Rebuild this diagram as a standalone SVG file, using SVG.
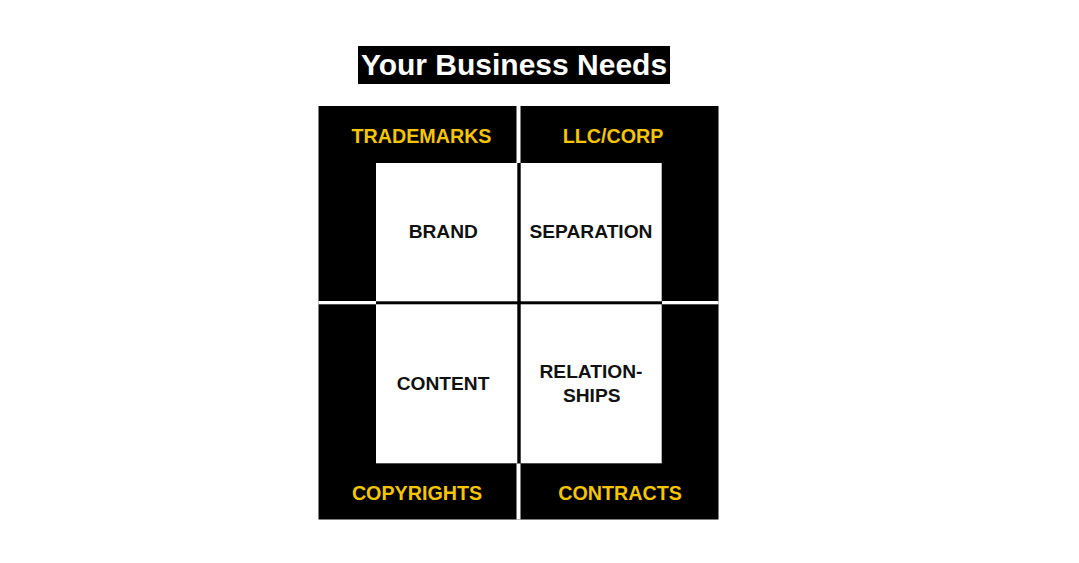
<svg xmlns="http://www.w3.org/2000/svg" width="1079" height="563" viewBox="0 0 1079 563">
<style>
.t{font-family:"Liberation Sans",Arial,sans-serif;font-weight:bold;text-anchor:middle}
.y{fill:#F5C500;font-size:19.7px}
.k{fill:#111;font-size:19.2px}
</style>
<rect width="1079" height="563" fill="#fff"/>
<g id="title">
<rect x="358" y="46" width="312" height="38" fill="#000"/>
<text class="t" x="514" y="75" font-size="30" fill="#fff">Your Business Needs</text>
</g>
<g id="frame">
<rect x="318.5" y="106" width="400" height="413.5" fill="#000"/>
<rect x="516.5" y="106" width="4" height="413.5" fill="#fff"/>
<rect x="318.5" y="301" width="400" height="3.3" fill="#fff"/>
<rect x="376" y="163" width="286" height="300.5" fill="#000"/>
</g>
<g id="trademarks"><text class="t y" x="421.5" y="142.5">TRADEMARKS</text></g>
<g id="llc"><text class="t y" x="613" y="142.5">LLC/CORP</text></g>
<g id="copyrights"><text class="t y" x="417" y="500">COPYRIGHTS</text></g>
<g id="contracts"><text class="t y" x="620" y="500">CONTRACTS</text></g>
<g id="brand">
<rect x="376" y="163" width="141.3" height="138.3" fill="#fff"/>
<text class="t k" x="443.3" y="238.3">BRAND</text>
</g>
<g id="separation">
<rect x="520.7" y="163" width="141" height="138.3" fill="#fff"/>
<text class="t k" x="591" y="238.3">SEPARATION</text>
</g>
<g id="content">
<rect x="376" y="304.3" width="141.3" height="159" fill="#fff"/>
<text class="t k" x="443" y="390">CONTENT</text>
</g>
<g id="relationships">
<rect x="520.7" y="304.3" width="141" height="159" fill="#fff"/>
<text class="t k" x="591" y="377.7">RELATION-</text>
<text class="t k" x="591.7" y="401.7">SHIPS</text>
</g>
<g id="connectors"></g>
</svg>
